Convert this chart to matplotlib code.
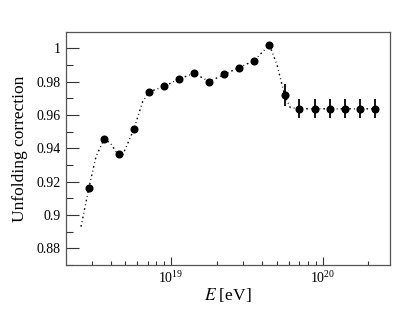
import matplotlib
matplotlib.use("Agg")
import matplotlib.pyplot as plt
from matplotlib.ticker import MultipleLocator, LogLocator, NullFormatter

plt.rcParams['font.family'] = ['Liberation Serif', 'DejaVu Serif']
plt.rcParams['mathtext.fontset'] = 'stix'

# Data points (energy in eV, correction, error)
energy = [2.87e18, 3.62e18, 4.54e18, 5.68e18, 7.16e18, 9.0e18, 1.13e19, 1.42e19,
          1.79e19, 2.24e19, 2.81e19, 3.52e19, 4.45e19, 5.6e19, 7.0e19, 8.9e19,
          1.11e20, 1.40e20, 1.75e20, 2.2e20]
correction = [0.916, 0.9455, 0.9367, 0.9513, 0.9738, 0.9772, 0.9816, 0.985,
              0.980, 0.9844, 0.9884, 0.9926, 1.002, 0.972, 0.9637, 0.9637,
              0.9637, 0.9637, 0.9637, 0.9637]
error = [0, 0, 0, 0, 0, 0, 0, 0, 0, 0, 0, 0, 0, 0.0068, 0.0058, 0.0058,
         0.0058, 0.0058, 0.0058, 0.0058]

# Smooth curve
curve_e = [2.55e18, 2.87e18, 3.2e18, 3.62e18, 4.0e18, 4.4e18, 4.8e18, 5.68e18,
           6.5e18, 7.16e18, 9.0e18, 1.13e19, 1.42e19, 1.79e19, 2.24e19, 2.81e19,
           3.52e19, 4.45e19, 5.0e19, 5.6e19, 6.1e19, 7.0e19, 2.35e20]
curve_v = [0.893, 0.916, 0.935, 0.9455, 0.943, 0.937, 0.936, 0.9513,
           0.968, 0.9738, 0.9772, 0.9816, 0.985, 0.980, 0.9844, 0.9884,
           0.9926, 1.002, 0.990, 0.972, 0.9645, 0.9637, 0.9637]

fig = plt.figure(figsize=(4.15, 3.12), dpi=100)
ax = fig.add_axes([0.159, 0.1506, 0.781, 0.7464])

ax.plot(curve_e, curve_v, linestyle=(0, (1.2, 2.2, 0.6, 2.2)), color='black', lw=1.0)
ax.errorbar(energy, correction, yerr=error, fmt='o', color='black', ms=4.8,
            elinewidth=1.3, capsize=0)

ax.set_xscale('log')
ax.set_xlim(2.03e18, 2.78e20)
ax.set_ylim(0.87, 1.0097)

ax.yaxis.set_minor_locator(MultipleLocator(0.01))
ax.set_yticks([0.88, 0.9, 0.92, 0.94, 0.96, 0.98, 1.0])
ax.set_yticklabels(['0.88', '0.9', '0.92', '0.94', '0.96', '0.98', '1'])
ax.xaxis.set_major_locator(LogLocator(base=10, numticks=10))
ax.xaxis.set_minor_locator(LogLocator(base=10, subs=range(2, 10), numticks=20))
ax.xaxis.set_minor_formatter(NullFormatter())

ax.tick_params(axis='both', which='both', direction='in', top=False, right=False,
               labelsize=10, colors='#333333', labelcolor='black')
ax.tick_params(axis='y', which='major', length=9, width=0.8, pad=4)
ax.tick_params(axis='y', which='minor', length=5, width=0.8)
ax.tick_params(axis='x', which='major', length=6, width=0.8, pad=4)
ax.tick_params(axis='x', which='minor', length=3, width=0.8)

for s in ax.spines.values():
    s.set_color('#555555')
    s.set_linewidth(0.9)

ax.set_ylabel('Unfolding correction', fontsize=12.5, labelpad=6)
ax.set_xlabel('$E$ [eV]', fontsize=12.5, labelpad=0)

fig.savefig('out.png', dpi=100)
